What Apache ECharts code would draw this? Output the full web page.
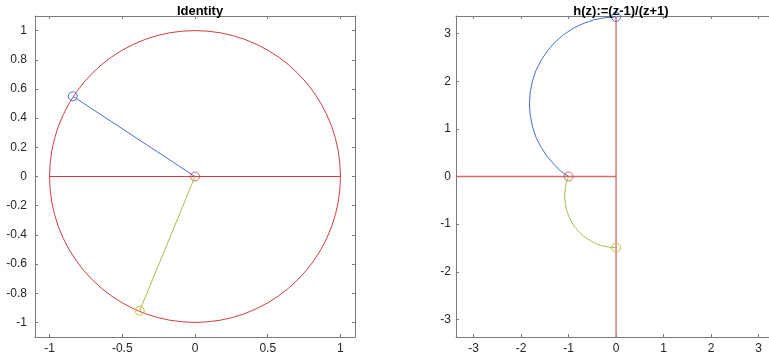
<!DOCTYPE html>
<html>
<head>
<meta charset="utf-8">
<script src="https://cdn.jsdelivr.net/npm/echarts@6/dist/echarts.min.js"></script>
<style>html,body{margin:0;padding:0;background:#fff;}#c{width:769px;height:360px;}</style>
</head>
<body>
<div id="c"></div>
<script>
// ---- data ----
const titles = ['Identity', 'h(z):=(z-1)/(z+1)'];
const leftXTicks = [-1, -0.5, 0, 0.5, 1];
const leftYTicks = [-1, -0.8, -0.6, -0.4, -0.2, 0, 0.2, 0.4, 0.6, 0.8, 1];
const rightTicks = [-3, -2, -1, 0, 1, 2, 3];
const leftRange = [-1.1, 1.1];
const rightXRange = [-3.37, 3.22];
const rightYRange = [-3.37, 3.37];

// unit circle (left)
const unitCircle = [
  [1,0],[0.996,0.087],[0.985,0.174],[0.966,0.259],[0.94,0.342],[0.906,0.423],[0.866,0.5],[0.819,0.574],
  [0.766,0.643],[0.707,0.707],[0.643,0.766],[0.574,0.819],[0.5,0.866],[0.423,0.906],[0.342,0.94],
  [0.259,0.966],[0.174,0.985],[0.087,0.996],[0,1],
  [-0.087,0.996],[-0.174,0.985],[-0.259,0.966],[-0.342,0.94],[-0.423,0.906],[-0.5,0.866],[-0.574,0.819],
  [-0.643,0.766],[-0.707,0.707],[-0.766,0.643],[-0.819,0.574],[-0.866,0.5],[-0.906,0.423],[-0.94,0.342],
  [-0.966,0.259],[-0.985,0.174],[-0.996,0.087],[-1,0],
  [-0.996,-0.087],[-0.985,-0.174],[-0.966,-0.259],[-0.94,-0.342],[-0.906,-0.423],[-0.866,-0.5],[-0.819,-0.574],
  [-0.766,-0.643],[-0.707,-0.707],[-0.643,-0.766],[-0.574,-0.819],[-0.5,-0.866],[-0.423,-0.906],[-0.342,-0.94],
  [-0.259,-0.966],[-0.174,-0.985],[-0.087,-0.996],[0,-1],
  [0.087,-0.996],[0.174,-0.985],[0.259,-0.966],[0.342,-0.94],[0.423,-0.906],[0.5,-0.866],[0.574,-0.819],
  [0.643,-0.766],[0.707,-0.707],[0.766,-0.643],[0.819,-0.574],[0.866,-0.5],[0.906,-0.423],[0.94,-0.342],
  [0.966,-0.259],[0.985,-0.174],[0.996,-0.087],[1,0]];
const realSegment = [[-1,0],[1,0]];
const blueRay = [[0,0],[-0.84,0.55]];
const oliveRay = [[0,0],[-0.38,-0.92]];
const originPoint = [[0,0]];

// images under h (right)
const imagAxis = [[0,-3.37],[0,3.37]];
const negReal = [[-3.37,0],[0,0]];
const blueArc = [[-1,0],[-1.152,0.102],[-1.29,0.236],[-1.444,0.412],[-1.58,0.614],[-1.686,0.824],
  [-1.762,1.054],[-1.808,1.288],[-1.824,1.526],[-1.808,1.764],[-1.762,1.998],[-1.686,2.228],
  [-1.58,2.438],[-1.444,2.64],[-1.29,2.816],[-1.112,2.972],[-0.912,3.106],[-0.698,3.211],
  [-0.472,3.288],[-0.238,3.334],[0,3.35]];
const oliveArc = [[-1,0],[-1.043,-0.113],[-1.066,-0.225],[-1.078,-0.319],[-1.082,-0.413],
  [-1.071,-0.554],[-1.045,-0.693],[-0.999,-0.827],[-0.937,-0.954],[-0.859,-1.071],[-0.765,-1.178],
  [-0.659,-1.271],[-0.541,-1.35],[-0.414,-1.413],[-0.28,-1.458],[-0.141,-1.485],[0,-1.495]];
const imageOrigin = [[-1,0]];

// ---- styling ----
const RED = '#cf3f3f', BLUE = '#4a6fd6', OLIVE = '#9fc24a', OLIVE_MK = '#c9c23a';
const AX = '#7a7a7a', TXT = '#262626';
const FONT = 'Liberation Sans, Arial, Helvetica, sans-serif';

function axisDef(gridIndex, range, ticks, pos, showLabels, margin, showLine, showTicks) {
  return {
    type: 'value', gridIndex: gridIndex, position: pos,
    min: range[0], max: range[1],
    axisLine: { show: showLine, onZero: false, lineStyle: { color: AX, width: 1 } },
    splitLine: { show: false },
    axisTick: { show: showTicks, inside: true, length: 3, customValues: ticks, lineStyle: { color: AX } },
    axisLabel: { show: showLabels, customValues: ticks, color: TXT, fontSize: 12, fontFamily: FONT, margin: margin,
      formatter: v => String(v) },
  };
}

function endMarker(data, color, size) {
  return data.map((p, i) => i === data.length - 1
    ? { value: p, symbol: 'circle', symbolSize: size, itemStyle: { color: 'rgba(0,0,0,0)', borderColor: color, borderWidth: 1 } }
    : { value: p, symbol: 'none' });
}

function lineSeries(xi, yi, data, color, width, opacity) {
  return { type: 'line', xAxisIndex: xi, yAxisIndex: yi, data: data, smooth: false,
    showSymbol: true, symbol: 'none', clip: true, animation: false, silent: true,
    lineStyle: { color: color, width: width, opacity: opacity == null ? 1 : opacity, join: 'round' } };
}

function markerSeries(xi, yi, data, color, size) {
  return { type: 'scatter', xAxisIndex: xi, yAxisIndex: yi, data: data, symbol: 'circle', symbolSize: size,
    animation: false, silent: true, itemStyle: { color: 'rgba(0,0,0,0)', borderColor: color, borderWidth: 1 } };
}

const chart = echarts.init(document.getElementById('c'), null, { renderer: 'canvas' });
chart.setOption({
  backgroundColor: '#fff',
  animation: false,
  title: [
    { text: titles[0], left: 195, top: 0, textAlign: 'center', textStyle: { fontSize: 13, fontWeight: 'bold', color: '#000', fontFamily: FONT } },
    { text: titles[1], left: 616, top: 0, textAlign: 'center', textStyle: { fontSize: 13, fontWeight: 'bold', color: '#000', fontFamily: FONT } },
  ],
  grid: [
    { left: 35, top: 16, width: 320, height: 321 },
    { left: 456, top: 16, width: 313, height: 321 },
  ],
  xAxis: [
    axisDef(0, leftRange, leftXTicks, 'bottom', true, 6, true, true),
    axisDef(0, leftRange, leftXTicks, 'top', false, 6, true, true),
    axisDef(1, rightXRange, rightTicks, 'bottom', true, 6, true, true),
    axisDef(1, rightXRange, rightTicks, 'top', false, 6, true, true),
  ],
  yAxis: [
    axisDef(0, leftRange, leftYTicks, 'left', true, 8, true, true),
    axisDef(0, leftRange, leftYTicks, 'right', false, 8, true, true),
    axisDef(1, rightYRange, rightTicks, 'left', true, 5, true, true),
    axisDef(1, rightYRange, rightTicks, 'right', false, 5, false, false),
  ],
  series: [
    // left panel
    lineSeries(0, 0, unitCircle, RED, 1),
    lineSeries(0, 0, realSegment, RED, 1),
    lineSeries(0, 0, endMarker(blueRay, BLUE, 9), BLUE, 1),
    lineSeries(0, 0, endMarker(oliveRay, OLIVE_MK, 9), OLIVE, 1),
    markerSeries(0, 0, originPoint, RED, 9),
    // right panel
    lineSeries(2, 2, imagAxis, '#e07c7c', 1.8, 0.85),
    lineSeries(2, 2, negReal, '#d65a5a', 1.3, 0.9),
    lineSeries(2, 2, endMarker(blueArc, BLUE, 9), BLUE, 1),
    lineSeries(2, 2, endMarker(oliveArc, OLIVE_MK, 9), OLIVE, 1),
    markerSeries(2, 2, imageOrigin, RED, 9),
  ],
});
</script>
</body>
</html>
